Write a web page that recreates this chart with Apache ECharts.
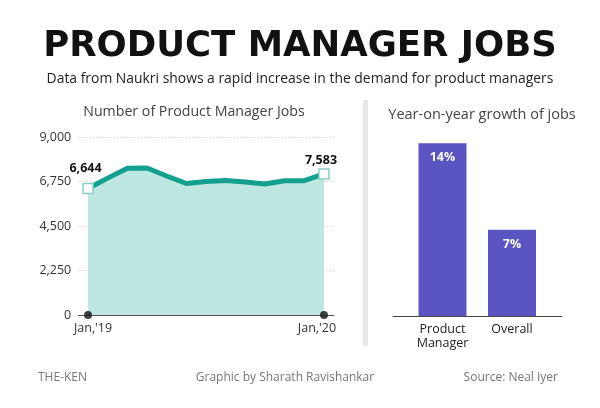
<!DOCTYPE html>
<html>
<head>
<meta charset="utf-8">
<script src="https://cdn.jsdelivr.net/npm/echarts@6/dist/echarts.min.js"></script>
<style>html,body{margin:0;padding:0;background:#fff}#c{width:600px;height:408px}</style>
</head>
<body>
<div id="c"></div>
<script>
// ---- data ----
const months = ["Jan,'19","Feb","Mar","Apr","May","Jun","Jul","Aug","Sep","Oct","Nov","Dec","Jan,'20"];
const jobs = [6400, 6920, 7420, 7430, 7030, 6650, 6750, 6800, 6720, 6620, 6790, 6790, 7130];
const endLabels = ['6,644', '7,583'];
const yTicks = [0, 2250, 4500, 6750, 9000];
const barCats = ['Product\nManager', 'Overall'];
const growth = [14, 7];
const growthLabels = ['14%', '7%'];

const FONT = 'Open Sans';
const last = months.length - 1;

const lineData = months.map((m, i) => {
  const isEnd = (i === 0 || i === last);
  const d = { value: jobs[i], symbol: isEnd ? 'rect' : 'none' };
  if (isEnd) {
    d.label = {
      show: true,
      position: 'top',
      formatter: i === 0 ? endLabels[0] : endLabels[1],
      offset: i === 0 ? [-2.5, -3] : [-3, 4],
      fontFamily: FONT, fontWeight: 'bold', fontSize: 12.5, color: '#111'
    };
  }
  return d;
});

const chart = echarts.init(document.getElementById('c'), null, { renderer: 'canvas' });
chart.setOption({
  animation: false,
  backgroundColor: '#fff',
  textStyle: { fontFamily: FONT },
  title: [
    { text: 'PRODUCT MANAGER JOBS', left: 'center', top: 24,
      textStyle: { fontFamily: 'DejaVu Sans', fontWeight: 900, fontSize: 35.5, color: '#111' } },
    { text: 'Data from Naukri shows a rapid increase in the demand for product managers', left: 'center', top: 67,
      textStyle: { fontFamily: FONT, fontWeight: 'normal', fontSize: 13.9, color: '#222' } },
    { text: 'Number of Product Manager Jobs', left: 189, top: 100, textAlign: 'center',
      textStyle: { fontFamily: FONT, fontWeight: 'normal', fontSize: 14.2, color: '#444' } },
    { text: 'Year-on-year growth of jobs', left: 477, top: 102, textAlign: 'center',
      textStyle: { fontFamily: FONT, fontWeight: 'normal', fontSize: 14.5, color: '#444' } },
    { text: 'THE-KEN', left: 33, top: 367,
      textStyle: { fontFamily: FONT, fontWeight: 'normal', fontSize: 12, color: '#777' } },
    { text: 'Graphic by Sharath Ravishankar', left: 280, top: 367, textAlign: 'center',
      textStyle: { fontFamily: FONT, fontWeight: 'normal', fontSize: 12, color: '#777' } },
    { text: 'Source: Neal Iyer', right: 37, top: 367,
      textStyle: { fontFamily: FONT, fontWeight: 'normal', fontSize: 12, color: '#777' } }
  ],
  graphic: [
    { type: 'rect', shape: { x: 363, y: 100, width: 5, height: 246 }, style: { fill: '#e8e8e8' }, silent: true }
  ],
  grid: [
    { left: 78.2, right: 266.2, top: 137, bottom: 93 },
    { left: 407.75, width: 139, top: 143.3, height: 172.7 },
    { left: 393, width: 169, top: 143.3, height: 172.7 }
  ],
  xAxis: [
    {
      gridIndex: 0, type: 'category', data: months, boundaryGap: true,
      axisLine: { show: true, lineStyle: { color: '#555', width: 1.2 } },
      axisTick: { show: false },
      axisLabel: {
        interval: 11, margin: 7, color: '#333', fontSize: 12.5, fontFamily: FONT,
        formatter: (v, i) => i === 0 ? '{a|' + v + '}' : '{b|' + v + '}',
        rich: {
          a: { padding: [0, 0, 0, 10], fontSize: 12.5, color: '#333', fontFamily: FONT },
          b: { padding: [0, 14, 0, 0], fontSize: 12.5, color: '#333', fontFamily: FONT }
        }
      },
      splitLine: { show: false }
    },
    {
      gridIndex: 1, type: 'category', data: barCats, boundaryGap: true,
      axisLine: { show: false }, axisTick: { show: false },
      axisLabel: { margin: 6, color: '#222', fontSize: 12.5, lineHeight: 14, fontFamily: FONT }
    },
    {
      gridIndex: 2, type: 'value', min: 0, max: 1,
      axisLine: { show: true, onZero: true, lineStyle: { color: '#444', width: 1.2 } },
      axisTick: { show: false }, axisLabel: { show: false }, splitLine: { show: false }
    }
  ],
  yAxis: [
    {
      gridIndex: 0, type: 'value', min: yTicks[0], max: yTicks[yTicks.length - 1],
      interval: yTicks[1] - yTicks[0],
      axisLine: { show: false }, axisTick: { show: false },
      axisLabel: { margin: 7, color: '#333', fontSize: 12.5, fontFamily: FONT,
        formatter: v => v.toLocaleString('en-US') },
      splitLine: { show: true, lineStyle: { color: '#c8c8c8', type: [1, 2], width: 1 } }
    },
    { gridIndex: 1, type: 'value', min: 0, max: growth[0], show: false },
    { gridIndex: 2, type: 'value', min: 0, max: 1, show: false }
  ],
  series: [
    {
      type: 'line', xAxisIndex: 0, yAxisIndex: 0, data: lineData,
      symbolSize: 10, showAllSymbol: true,
      lineStyle: { color: '#14a08e', width: 5 },
      itemStyle: { color: '#ffffff', borderColor: '#86d2c6', borderWidth: 1.5 },
      areaStyle: { color: '#bfe7e1', opacity: 1 },
      z: 3
    },
    {
      type: 'scatter', xAxisIndex: 0, yAxisIndex: 0, clip: false,
      data: [[0, 0], [last, 0]], symbolSize: 8, itemStyle: { color: '#111' }, z: 5
    },
    {
      type: 'bar', xAxisIndex: 1, yAxisIndex: 1, data: growth, barWidth: 48,
      itemStyle: { color: '#5b55c4' },
      label: { show: true, position: 'insideTop', distance: 8,
        formatter: p => growthLabels[p.dataIndex],
        color: '#fff', fontWeight: 'bold', fontSize: 12.5, fontFamily: FONT }
    }
  ]
});
</script>
</body>
</html>
